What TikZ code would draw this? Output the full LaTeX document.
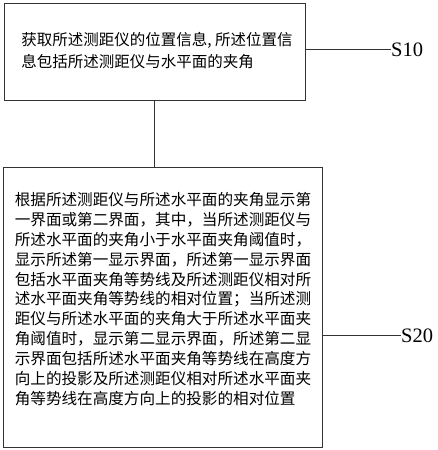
\documentclass[tikz,border=0pt]{standalone}
\usepackage{fontspec}
\setmainfont{Liberation Serif}
\newfontfamily\cjk{Noto Sans CJK SC}
\begin{document}
\begin{tikzpicture}[x=1pt,y=-1pt,
  box/.style={draw=black!80, line width=0.9pt, inner sep=0, anchor=north west},
  txt/.style={inner sep=0, align=left, font=\cjk\fontsize{15.6}{19.9}\selectfont},
  lbl/.style={inner sep=0, anchor=west, font=\fontsize{20.5}{24}\selectfont},
  conn/.style={draw=black!80, line width=0.9pt}]
\useasboundingbox (0,0) rectangle (437,450);
\node[box, minimum width=301, minimum height=97] (b1) at (4,2.5) {};
\node[box, minimum width=319, minimum height=280] (b2) at (3,167) {};
\node[txt, font=\cjk\fontsize{15.5}{22}\selectfont] (t1) at (157,51) {获取所述测距仪的位置信息, 所述位置信\\息包括所述测距仪与水平面的夹角};
\node[txt] (t2) at (163,299) {根据所述测距仪与所述水平面的夹角显示第\\一界面或第二界面，其中，当所述测距仪与\\所述水平面的夹角小于水平面夹角阈值时，\\显示所述第一显示界面，所述第一显示界面\\包括水平面夹角等势线及所述测距仪相对所\\述水平面夹角等势线的相对位置；当所述测\\距仪与所述水平面的夹角大于所述水平面夹\\角阈值时，显示第二显示界面，所述第二显\\示界面包括所述水平面夹角等势线在高度方\\向上的投影及所述测距仪相对所述水平面夹\\角等势线在高度方向上的投影的相对位置};
\node[lbl] (s10) at (391,49.5) {S10};
\node[lbl] (s20) at (401,335.5) {S20};
\coordinate (c1) at (154.5,0);
\draw[conn] (c1 |- b1.south) -- (c1 |- b2.north);
\draw[conn] (b1.east |- s10.west) -- (s10.west);
\draw[conn] (b2.east |- s20.west) -- (s20.west);
\end{tikzpicture}
\end{document}
